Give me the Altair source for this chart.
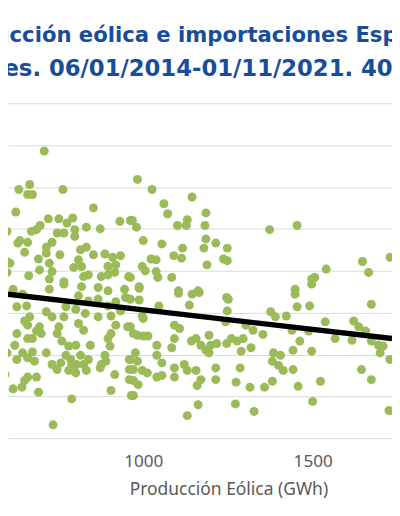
import altair as alt
import pandas as pd

# Weekly wind production (GWh) and imports (GWh)
eolica = [
    708, 633, 665, 659, 673, 763, 624, 853, 598, 587,
    670, 685, 696, 720, 751, 775, 792, 746, 766, 798,
    798, 832, 873, 931, 962, 636, 630, 659, 650, 714,
    731, 714, 754, 815, 832, 853, 887, 910, 933, 598,
    607, 691, 723, 694, 809, 795, 818, 896, 919, 916,
    587, 598, 662, 731, 723, 766, 824, 838, 876, 896,
    957, 818, 867, 723, 616, 945, 983, 1026, 1144, 1061,
    1072, 1185, 968, 980, 1101, 1127, 1130, 1182, 1000, 1055,
    1185, 1214, 1179, 1116, 1090, 1113, 1248, 1023, 1038, 1237,
    1248, 1188, 997, 1006, 1038, 1043, 1084, 962, 988, 1104,
    1162, 1373, 1454, 1647, 1728, 1665, 1540, 1497, 1506, 1448,
    616, 644, 766, 896, 627, 656, 714, 731, 766, 772,
    809, 838, 867, 896, 919, 933, 948, 801, 829, 867,
    905, 650, 659, 665, 694, 685, 699, 751, 746, 760,
    809, 824, 919, 905, 954, 627, 621, 659, 673, 780,
    801, 844, 896, 902, 887, 598, 644, 673, 659, 679,
    714, 772, 786, 815, 838, 627, 731, 757, 746, 789,
    803, 824, 832, 876, 890, 873, 959, 959, 587, 592,
    780, 801, 659, 685, 650, 916, 959, 616, 642, 691,
    905, 965, 789, 734, 988, 988, 962, 1104, 1144, 1165,
    1136, 1046, 1246, 1251, 1248, 997, 1000, 1243, 1092, 1107,
    1303, 1324, 962, 971, 983, 1000, 1014, 1040, 1092, 1084,
    1142, 1156, 1170, 1194, 1199, 1217, 1185, 1194, 1246, 1260,
    1295, 1289, 1318, 1277, 977, 983, 962, 1040, 1055, 971,
    997, 1012, 1040, 1055, 1092, 1121, 1130, 1156, 1170, 1159,
    1214, 1214, 1092, 1286, 1274, 1315, 971, 985, 971, 1162,
    1272, 1130, 1327, 1358, 1497, 1448, 1454, 1491, 1673, 1376,
    1390, 1422, 1353, 1439, 1488, 1537, 1566, 1621, 1636, 1656,
    1616, 1673, 1694, 1708, 1699, 1728, 1462, 1442, 1497, 1384,
    1381, 1405, 1399, 1413, 1442, 1644, 1673, 1381, 1457, 1523,
    1500, 1725,
]
importaciones = [
    343, 297, 303, 291, 291, 297, 270, 275, 247, 233,
    247, 249, 254, 262, 262, 257, 263, 245, 245, 249,
    241, 252, 250, 259, 260, 236, 233, 234, 222, 228,
    234, 221, 219, 225, 228, 219, 220, 216, 218, 211,
    209, 214, 209, 201, 213, 204, 205, 205, 207, 198,
    198, 198, 194, 199, 190, 187, 193, 195, 193, 195,
    193, 181, 180, 178, 178, 178, 309, 297, 288, 280,
    268, 269, 260, 252, 254, 254, 261, 254, 236, 232,
    238, 233, 227, 227, 218, 215, 227, 214, 213, 214,
    212, 207, 205, 200, 199, 192, 192, 192, 181, 176,
    176, 249, 254, 211, 216, 198, 202, 190, 192, 178,
    174, 172, 184, 176, 157, 158, 151, 145, 145, 157,
    170, 164, 166, 158, 163, 152, 168, 154, 149, 145,
    146, 140, 135, 145, 133, 128, 125, 133, 125, 116,
    137, 129, 135, 125, 133, 125, 111, 119, 119, 110,
    111, 111, 119, 110, 99, 102, 102, 103, 96, 92,
    102, 99, 94, 99, 94, 94, 88, 90, 82, 87,
    88, 88, 81, 88, 92, 84, 94, 82, 82, 76,
    81, 78, 73, 73, 69, 76, 70, 59, 61, 55,
    57, 51, 47, 16, 179, 165, 166, 173, 172, 174,
    159, 158, 168, 166, 152, 146, 143, 139, 135, 131,
    135, 129, 133, 125, 123, 122, 122, 111, 119, 108,
    116, 119, 111, 123, 111, 113, 105, 102, 113, 119,
    119, 104, 108, 116, 102, 92, 94, 99, 90, 82,
    81, 78, 73, 75, 84, 88, 81, 81, 70, 63,
    84, 70, 73, 84, 67, 61, 69, 64, 51, 40,
    41, 27, 32, 61, 184, 172, 157, 158, 160, 151,
    145, 146, 124, 129, 128, 139, 119, 140, 133, 128,
    117, 116, 111, 110, 102, 94, 116, 105, 104, 102,
    92, 99, 87, 81, 82, 82, 70, 68, 62, 68,
    44, 33,
]
assert len(eolica) == len(importaciones)

# Linear trend line (endpoints)
trend_x = [578, 1734]
trend_y = [173, 119]

x_ticks = [1000, 1500]
y_grid = [0, 50, 100, 150, 200, 250, 300, 350, 400]

title_1 = "Producción eólica e importaciones España"
title_2 = "Semanales. 06/01/2014-01/11/2021. 409 semanas"

FONT = "Noto Sans"
TFONT = "DejaVu Sans"
GREEN = "#9bbb59"
BLUE = "#174d9a"
GREY = "#595959"

pts = pd.DataFrame({"eol": eolica, "imp": importaciones})
trend = pd.DataFrame({"eol": trend_x, "imp": trend_y})

x_enc = alt.X(
    "eol:Q",
    scale=alt.Scale(domain=[601, 1734], nice=False, zero=False),
    axis=alt.Axis(
        values=x_ticks, format="d", grid=False, domain=False, ticks=False, tickSize=0,
        labelPadding=15, labelFontSize=17.5, labelColor=GREY, labelFont=FONT,
        title="Producción Eólica (GWh)", titleFont=FONT, titleFontSize=17.8,
        titleFontWeight="normal", titleColor=GREY, titleX=225, titleY=57,
        titleAlign="center", titleBaseline="alphabetic",
    ),
)
y_enc = alt.Y(
    "imp:Q",
    scale=alt.Scale(domain=[0, 400], nice=False),
    axis=alt.Axis(
        values=y_grid, labels=False, ticks=False, domain=False, grid=True,
        gridColor="#d9d9d9", gridWidth=1, title=None,
    ),
)

points = alt.Chart(pts).mark_circle(size=84, color=GREEN, opacity=1, clip=True).encode(
    x=x_enc, y=y_enc
)
line = alt.Chart(trend).mark_line(color="black", strokeWidth=5.5, clip=True).encode(
    x="eol:Q", y="imp:Q"
)

t1 = alt.Chart(pd.DataFrame({"t": [title_1]})).mark_text(
    align="left", baseline="alphabetic", font=TFONT, fontSize=21.6,
    fontWeight="bold", color=BLUE,
).encode(text="t:N", x=alt.value(-70.5), y=alt.value(-63))
t2 = alt.Chart(pd.DataFrame({"t": [title_2]})).mark_text(
    align="left", baseline="alphabetic", font=TFONT, fontSize=23.2,
    fontWeight="bold", color=BLUE,
).encode(text="t:N", x=alt.value(-117), y=alt.value(-28))

chart = (
    alt.layer(points, line, t1, t2)
    .properties(
        width=392, height=342,
        autosize=alt.AutoSizeParams(type="none"),
        padding={"left": 0, "top": 92, "right": 0, "bottom": 66},
    )
    .configure_view(stroke=None)
)

chart.save("out.html", embed_options={"renderer": "svg", "actions": False})
